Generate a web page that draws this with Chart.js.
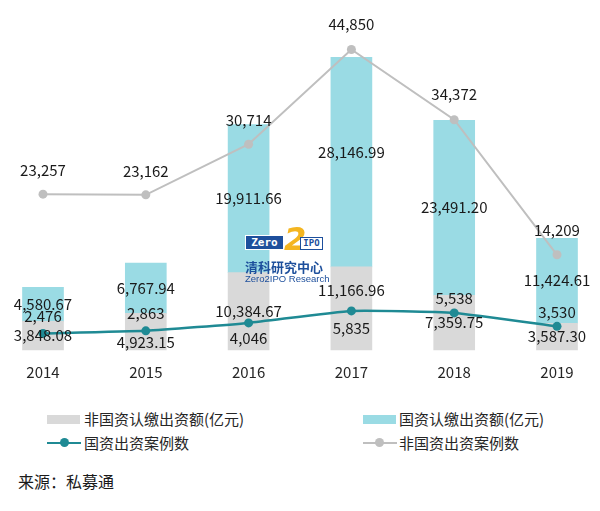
<!DOCTYPE html>
<html>
<head>
<meta charset="utf-8">
<script src="https://cdn.jsdelivr.net/npm/chart.js@4.4.1/dist/chart.umd.min.js"></script>
<style>
  html, body { margin: 0; padding: 0; background: #ffffff; }
  body { width: 600px; height: 511px; position: relative; overflow: hidden;
         font-family: "Noto Sans CJK SC", "Noto Sans", sans-serif; color: #262626; }
  #wrap { position: absolute; left: 0; top: 0; width: 600px; height: 394px; }
  .lg { position: absolute; font-size: 15px; line-height: 20px; white-space: nowrap; }
  .box { position: absolute; width: 33px; height: 9px; }
  .ln { position: absolute; width: 34px; height: 2px; }
  .dot { position: absolute; width: 9px; height: 9px; border-radius: 50%; }
  .src { position: absolute; left: 18px; top: 470px; font-size: 16px; line-height: 22px; color: #1a1a1a; }
  .logo { position: absolute; pointer-events: none; }
</style>
</head>
<body>
<div id="wrap"><canvas id="c"></canvas></div>

<!-- legend -->
<div class="box" style="left:47px; top:415px; background:#d9d9d9;"></div>
<div class="lg" style="left:84px; top:409px;">非国资认缴出资额(亿元)</div>
<div class="box" style="left:363px; top:415px; background:#9adbe4;"></div>
<div class="lg" style="left:399px; top:409px;">国资认缴出资额(亿元)</div>

<div class="ln" style="left:47px; top:442px; background:#1f8a94;"></div>
<div class="dot" style="left:60px; top:438px; background:#1f8a94;"></div>
<div class="lg" style="left:84px; top:433px;">国资出资案例数</div>
<div class="ln" style="left:363px; top:442px; background:#bfbfbf;"></div>
<div class="dot" style="left:375px; top:438px; background:#bfbfbf;"></div>
<div class="lg" style="left:399px; top:433px;">非国资出资案例数</div>

<div class="src">来源：私募通</div>

<!-- watermark logo -->
<div class="logo" style="left:245px; top:235px; width:39px; height:15px; background:#1d4f9c; border:1px solid #ffffff; box-sizing:border-box; color:#fff; font:bold 11px 'DejaVu Sans Mono', monospace; line-height:13px; text-align:center;">Zero</div>
<div class="logo" style="left:284px; top:222px; color:#f4b520; font:italic bold 32px 'DejaVu Sans', sans-serif; line-height:34px;">2</div>
<div class="logo" style="left:300px; top:237px; width:23px; height:13px; border:1.5px solid #1d4f9c; box-sizing:border-box; background:#fff; color:#1d4f9c; font:bold 9px 'DejaVu Sans Mono', monospace; line-height:10px; text-align:center;">IPO</div>
<div class="logo" style="left:245px; top:259px; color:#1d4f9c; font:bold 13px 'Noto Sans CJK SC', sans-serif; line-height:15px;">清科研究中心</div>
<div class="logo" style="left:245px; top:273px; color:#1d4f9c; font:9.5px 'Liberation Sans', sans-serif; line-height:11px;">Zero2IPO Research</div>

<script>
const years = ['2014', '2015', '2016', '2017', '2018', '2019'];
const nonStateAmount = [3848.08, 4923.15, 10384.67, 11166.96, 7359.75, 3587.30];
const stateAmount = [4580.67, 6767.94, 19911.66, 28146.99, 23491.20, 11424.61];
const stateCases = [2476, 2863, 4046, 5835, 5538, 3530];
const nonStateCases = [23257, 23162, 30714, 44850, 34372, 14209];

const FONT = '"Noto Sans CJK SC", "Noto Sans", sans-serif';

// label placement (style only): per dataset, vertical shifts by index
const labelPlacement = {
  0: { mode: 'center', shift: { 1: 11, 3: -18 } },
  1: { mode: 'center', shift: { 3: -10 } },
  2: { mode: 'point', offset: [-17, -18, 15, 17, -15, -14] },
  3: { mode: 'point', offset: [-24, -24, -24, -25, -25, -25] }
};

const labelPlugin = {
  id: 'valueLabels',
  afterDatasetsDraw(chart) {
    const ctx = chart.ctx;
    ctx.save();
    ctx.font = '15px ' + FONT;
    ctx.fillStyle = '#1a1a1a';
    ctx.textAlign = 'center';
    ctx.textBaseline = 'middle';
    chart.data.datasets.forEach((ds, di) => {
      const meta = chart.getDatasetMeta(di);
      const pl = labelPlacement[di];
      meta.data.forEach((el, i) => {
        const v = ds.data[i];
        let y;
        let txt;
        if (pl.mode === 'center') {
          y = (el.y + el.base) / 2 + ((pl.shift && pl.shift[i]) || 0);
          txt = v.toLocaleString('en-US', { minimumFractionDigits: 2, maximumFractionDigits: 2 });
        } else {
          y = el.y + pl.offset[i];
          txt = v.toLocaleString('en-US');
        }
        ctx.fillText(txt, el.x, y);
      });
    });
    ctx.restore();
  }
};

new Chart(document.getElementById('c'), {
  type: 'bar',
  data: {
    labels: years,
    datasets: [
      { label: '非国资认缴出资额(亿元)', data: nonStateAmount, backgroundColor: '#d9d9d9',
        yAxisID: 'y', stack: 'amt', order: 2, barThickness: 41, clip: false },
      { label: '国资认缴出资额(亿元)', data: stateAmount, backgroundColor: '#9adbe4',
        yAxisID: 'y', stack: 'amt', order: 2, barThickness: 41, clip: false },
      { type: 'line', label: '国资出资案例数', data: stateCases, yAxisID: 'y2',
        borderColor: '#1f8a94', backgroundColor: '#1f8a94', borderWidth: 2.5,
        pointRadius: 4.5, pointBackgroundColor: '#1f8a94', pointBorderWidth: 0,
        tension: 0.15, order: 1, clip: false },
      { type: 'line', label: '非国资出资案例数', data: nonStateCases, yAxisID: 'y2',
        borderColor: '#bfbfbf', backgroundColor: '#bfbfbf', borderWidth: 2,
        pointRadius: 4.5, pointBackgroundColor: '#bfbfbf', pointBorderWidth: 0,
        tension: 0, order: 1, clip: false }
    ]
  },
  options: {
    responsive: true,
    maintainAspectRatio: false,
    animation: false,
    layout: { padding: { left: 43, right: 43, top: 15, bottom: 0 } },
    plugins: { legend: { display: false }, tooltip: { enabled: false } },
    scales: {
      x: {
        offset: false,
        stacked: true,
        grid: { display: false, drawTicks: false },
        border: { display: false },
        ticks: { padding: 13, color: '#262626', font: { size: 15, family: FONT }, maxRotation: 0, autoSkip: false }
      },
      y: { display: false, stacked: true, min: 0, max: 45000 },
      y2: { display: false, min: 0, max: 50000 }
    }
  },
  plugins: [labelPlugin]
});
</script>
</body>
</html>
